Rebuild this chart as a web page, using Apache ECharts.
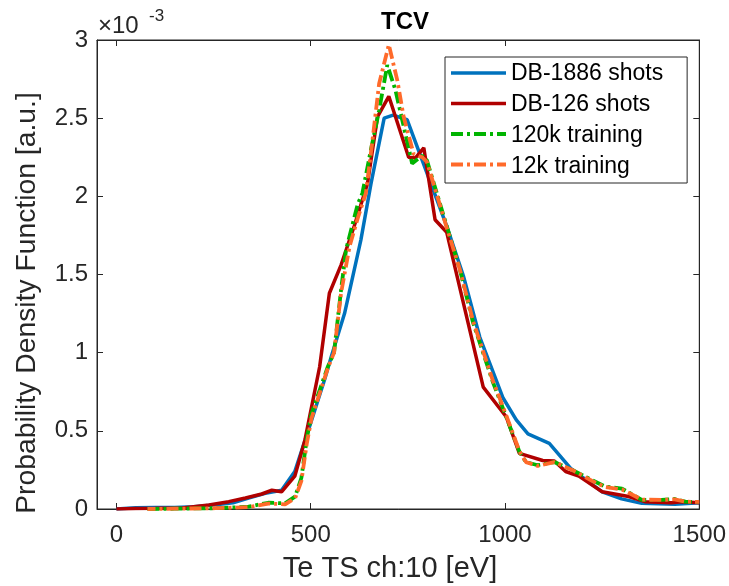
<!DOCTYPE html>
<html>
<head>
<meta charset="utf-8">
<script src="https://cdn.jsdelivr.net/npm/echarts@6/dist/echarts.min.js"></script>
<style>html,body{margin:0;padding:0;background:#fff}#c{width:729px;height:586px}</style>
</head>
<body>
<div id="c"></div>
<script>
// Values in units of 1e-3
var xTicks = [0, 500, 1000, 1500];
var yTicks = [0, 0.5, 1, 1.5, 2, 2.5, 3];
var seriesNames = ['DB-1886 shots', 'DB-126 shots', '120k training', '12k training'];

var blueX = [0, 50, 100, 150, 200, 250, 300, 340, 383, 425, 459, 500, 536, 553, 587, 629, 655, 689, 712, 748, 787, 850, 893, 935, 995, 1029, 1059, 1114, 1169, 1250, 1300, 1352, 1437, 1500];
var blueY = [0, 0.008, 0.01, 0.01, 0.015, 0.025, 0.04, 0.07, 0.10, 0.12, 0.24, 0.55, 0.83, 0.975, 1.25, 1.72, 2.08, 2.50, 2.52, 2.49, 2.23, 1.81, 1.49, 1.10, 0.71, 0.57, 0.48, 0.42, 0.26, 0.11, 0.065, 0.036, 0.03, 0.04];

var redX = [0, 50, 100, 170, 238, 289, 332, 374, 400, 425, 459, 485, 523, 548, 578, 612, 646, 672, 701, 752, 769, 791, 820, 850, 944, 1003, 1037, 1097, 1127, 1156, 1190, 1250, 1318, 1360, 1428, 1454, 1500];
var redY = [0, 0.003, 0.004, 0.006, 0.026, 0.047, 0.07, 0.096, 0.12, 0.11, 0.21, 0.44, 0.91, 1.38, 1.56, 1.81, 2.08, 2.51, 2.64, 2.25, 2.245, 2.31, 1.85, 1.77, 0.78, 0.59, 0.356, 0.31, 0.307, 0.24, 0.21, 0.11, 0.08, 0.047, 0.04, 0.047, 0.04];

var greenX = [80, 150, 255, 340, 391, 434, 460, 476, 490, 502, 544, 560, 578, 591, 621, 633, 655, 676, 697, 718, 739, 761, 787, 799, 850, 884, 918, 969, 1003, 1037, 1054, 1084, 1127, 1173, 1224, 1258, 1301, 1352, 1403, 1437, 1464, 1500];
var greenY = [0, 0.002, 0.005, 0.015, 0.04, 0.036, 0.08, 0.2, 0.45, 0.61, 0.91, 1.0, 1.40, 1.66, 1.95, 2.02, 2.30, 2.55, 2.84, 2.68, 2.45, 2.21, 2.26, 2.23, 1.81, 1.53, 1.19, 0.81, 0.59, 0.367, 0.30, 0.28, 0.30, 0.25, 0.185, 0.143, 0.13, 0.058, 0.058, 0.064, 0.047, 0.045];

var orangeX = [80, 150, 255, 340, 391, 434, 460, 476, 490, 502, 544, 560, 578, 600, 621, 642, 659, 676, 701, 723, 739, 765, 787, 799, 850, 884, 918, 969, 1003, 1037, 1054, 1084, 1127, 1173, 1224, 1258, 1301, 1352, 1403, 1437, 1464, 1500];
var orangeY = [0, 0.002, 0.005, 0.012, 0.035, 0.03, 0.07, 0.18, 0.42, 0.58, 0.90, 1.0, 1.38, 1.68, 1.86, 2.02, 2.36, 2.72, 2.97, 2.74, 2.51, 2.27, 2.25, 2.22, 1.80, 1.53, 1.20, 0.82, 0.60, 0.37, 0.30, 0.275, 0.30, 0.25, 0.18, 0.14, 0.125, 0.06, 0.058, 0.062, 0.047, 0.045];

function pairs(xs, ys) { return xs.map(function (x, i) { return [x, ys[i]]; }); }

var FONT = "'Liberation Sans', Arial, Helvetica, sans-serif";
var AX = '#262626';
var dashDot = [12, 4, 3, 4];
var plain = function (v) { return String(v); };
var styles = [
  {color: '#0072BD', width: 3.5, dash: null},
  {color: '#B00000', width: 3.5, dash: null},
  {color: '#00B400', width: 3.8, dash: dashDot},
  {color: '#FF6A2A', width: 3.8, dash: dashDot}
];

var chart = echarts.init(document.getElementById('c'), null, {renderer: 'canvas'});
var xCommon = {
  type: 'value', min: -50, max: 1500,
  splitLine: {show: false},
  axisLine: {show: true, onZero: false, lineStyle: {color: AX, width: 1}},
  axisTick: {show: true, inside: true, length: 6, customValues: xTicks, lineStyle: {color: AX}},
  axisLabel: {customValues: xTicks, formatter: plain, color: AX, fontSize: 24, fontFamily: FONT, margin: 14}
};
var yCommon = {
  type: 'value', min: 0, max: 3, interval: 0.5,
  splitLine: {show: false},
  axisLine: {show: true, onZero: false, lineStyle: {color: AX, width: 1}},
  axisTick: {show: true, inside: true, length: 6, customValues: yTicks, lineStyle: {color: AX}},
  axisLabel: {customValues: yTicks, formatter: plain, color: AX, fontSize: 24, fontFamily: FONT, margin: 9}
};

var legendRowY = [73, 103.5, 134, 164.5];
var graphics = [
  {type: 'text', left: 98, top: 14, style: {text: '\u00d710', fontSize: 24, fill: AX, fontFamily: FONT}},
  {type: 'text', left: 149, top: 8, style: {text: '-3', fontSize: 17, fill: AX, fontFamily: FONT}},
  {type: 'text', x: 390, y: 569, style: {text: 'Te TS ch:10 [eV]', fontSize: 29, fill: AX, fontFamily: FONT, align: 'center', verticalAlign: 'middle'}},
  {type: 'text', x: 27, y: 303, rotation: Math.PI / 2, style: {text: 'Probability Density Function [a.u.]', fontSize: 28.3, fill: AX, fontFamily: FONT, align: 'center', verticalAlign: 'middle'}}
];
styles.forEach(function (s, i) {
  graphics.push({type: 'line', z: 100, shape: {x1: 451, y1: legendRowY[i], x2: 506, y2: legendRowY[i]},
    style: {stroke: s.color, lineWidth: s.width, lineDash: s.dash}});
});

var option = {
  animation: false,
  backgroundColor: '#fff',
  title: {
    text: 'TCV', left: 400, top: 5, textAlign: 'center',
    textStyle: {fontSize: 24, fontWeight: 'bold', color: '#000', fontFamily: FONT}
  },
  grid: {left: 97, right: 25, top: 40, bottom: 77, show: true, borderColor: AX, borderWidth: 1, containLabel: false},
  xAxis: [
    Object.assign({}, xCommon, {position: 'bottom'}),
    Object.assign({}, xCommon, {position: 'top', axisLabel: {show: false}})
  ],
  yAxis: [
    Object.assign({}, yCommon, {position: 'left'}),
    Object.assign({}, yCommon, {position: 'right', axisLabel: {show: false}})
  ],
  legend: {
    orient: 'vertical', left: 445, top: 57,
    icon: 'none',
    itemWidth: 55, itemHeight: 14, itemGap: 7,
    padding: [5, 24, 4, 6],
    borderColor: AX, borderWidth: 1, backgroundColor: '#fff',
    textStyle: {fontSize: 23, color: '#000', fontFamily: FONT, lineHeight: 24},
    data: seriesNames
  },
  graphic: graphics,
  series: styles.map(function (s, i) {
    var data = [pairs(blueX, blueY), pairs(redX, redY), pairs(greenX, greenY), pairs(orangeX, orangeY)][i];
    var ls = {color: s.color, width: s.width};
    if (s.dash) { ls.type = s.dash; }
    if (i === 3) { ls.dashOffset = 4; }
    return {name: seriesNames[i], type: 'line', showSymbol: false, symbol: 'none', z: 2 + i,
      data: data, lineStyle: ls, itemStyle: {color: s.color}};
  })
};
chart.setOption(option);
</script>
</body>
</html>
